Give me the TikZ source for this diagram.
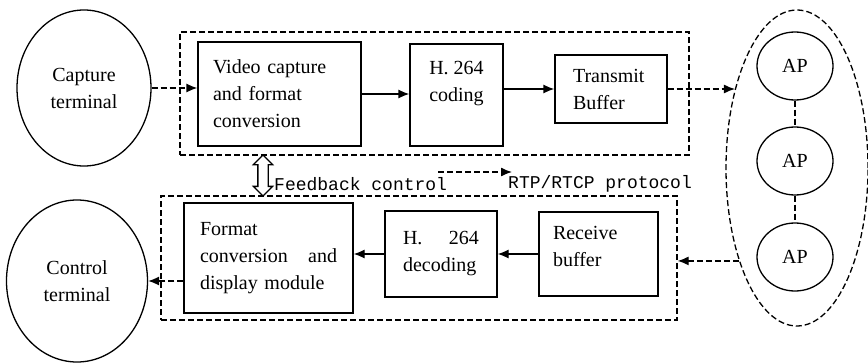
\documentclass[tikz,border=0pt]{standalone}
\usepackage{fontspec}
\setmainfont{Liberation Serif}
\setmonofont{Liberation Mono}
\usetikzlibrary{arrows,arrows.meta,positioning,shapes.geometric,shapes.arrows}

\begin{document}
\begin{tikzpicture}[x=1pt, y=-1pt, >={Latex[length=11pt,width=9pt]},
    font=\fontsize{20}{27}\selectfont,
    block/.style={draw, line width=1.3pt, rectangle, align=left, inner sep=0pt},
    term/.style={draw, line width=1.3pt, ellipse, align=center, inner sep=0pt},
    frame/.style={draw, line width=1.3pt, dash pattern=on 6pt off 3pt, inner sep=0pt},
    dashto/.style={line width=1.3pt, dash pattern=on 6pt off 3pt, ->},
    solidto/.style={line width=1.3pt, ->},
    mono/.style={font=\ttfamily\fontsize{18}{20}\selectfont, inner sep=0pt, anchor=west}]
    \useasboundingbox (0,0) rectangle (868,364);

    % sending side
    \node[term, minimum width=134pt, minimum height=156pt] (cap) at (84,88) {Capture\\terminal};
    \node[frame, rectangle, minimum width=509pt, minimum height=123pt] (topbox) at (434.5,93.5) {};
    \node[block, text width=133pt, minimum width=163pt, minimum height=104pt] (vid) at (279.5,94) {Video capture\\and format\\conversion};
    \node[block, align=center, minimum width=93pt, minimum height=102pt] (enc) at (456.5,95) {H. 264\\coding\\~};
    \node[block, text width=76pt, minimum width=112pt, minimum height=68pt] (tx) at (611,89) {Transmit\\Buffer};

    % access points
    \node[frame, ellipse, minimum width=142pt, minimum height=316pt] (aps) at (797,168) {};
    \node[term, minimum width=76pt, minimum height=68pt] (ap1) at (795,66) {AP};
    \node[term, minimum width=76pt, minimum height=68pt] (ap2) at (795,161) {AP};
    \node[term, minimum width=76pt, minimum height=68pt] (ap3) at (795,257) {AP};

    % receiving side
    \node[term, minimum width=141pt, minimum height=162pt] (ctl) at (77,281) {Control\\terminal};
    \node[frame, rectangle, minimum width=516pt, minimum height=124pt] (botbox) at (419,258) {};
    \node[block, text width=137pt, minimum width=169pt, minimum height=110pt] (fmt) at (268.5,258) {Format\\\makebox[137pt]{conversion\hfill and}\\display module};
    \node[block, text width=76pt, minimum width=112pt, minimum height=86pt] (dec) at (441,254) {\makebox[76pt]{H.\hfill 264}\\decoding};
    \node[block, text width=91pt, minimum width=119pt, minimum height=84pt] (rcv) at (598.5,254) {Receive\\buffer\\[-12pt]~};

    % feedback
    \node[draw, line width=1.3pt, double arrow, shape border rotate=90, minimum height=41pt,
          inner sep=4.5pt, double arrow head extend=4.5pt] (fb) at (263,175.5) {};
    \node[mono] (fbtext) at (274,184) {Feedback control};
    \node[mono] (rtp) at (508,184) {RTP/RTCP protocol};
    \coordinate (rtpa) at (438,172);

    \draw[dashto] (cap.east) -- (cap.east -| vid.west);
    \draw[solidto] (vid.east) -- (vid.east -| enc.west);
    \draw[solidto] (enc.east |- tx.west) -- (tx.west);
    \draw[dashto] (tx.east) -- (tx.east -| aps.128);
    \draw[frame] (ap1.south) -- (ap2.north);
    \draw[frame] (ap2.south) -- (ap3.north);
    \draw[dashto] (aps.238) -- (aps.238 -| botbox.east);
    \draw[solidto] (rcv.west) -- (dec.east);
    \draw[solidto] (dec.west) -- (dec.west -| fmt.east);
    \draw[dashto] (ctl.east -| fmt.west) -- (ctl.east);
    \draw[dashto] (rtpa) -- ([xshift=4pt]rtpa -| rtp.west);
\end{tikzpicture}
\end{document}
